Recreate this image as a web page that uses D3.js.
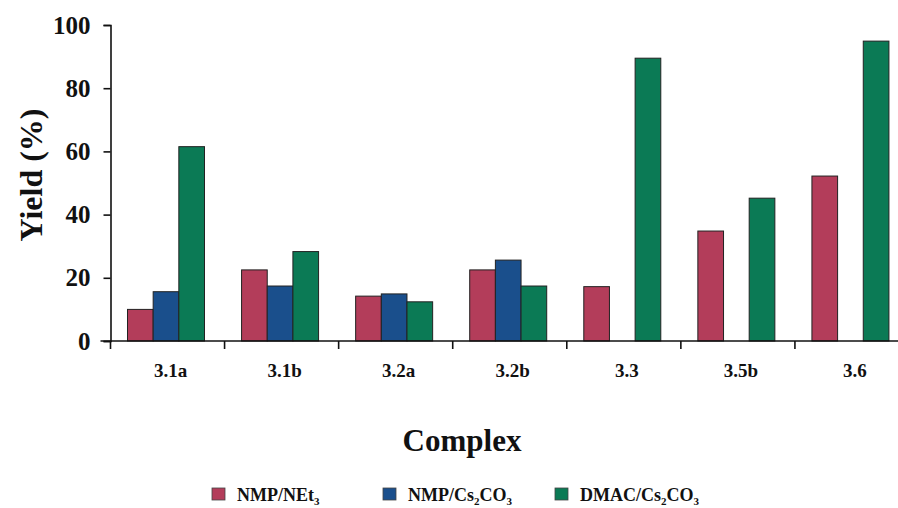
<!DOCTYPE html>
<html>
<head>
<meta charset="utf-8">
<script src="https://cdn.jsdelivr.net/npm/d3@7"></script>
<style>
  body { margin: 0; background: #fff; }
  svg { display: block; font-family: "Liberation Serif", "Times New Roman", serif; font-weight: bold; }
</style>
</head>
<body>
<svg id="chart" width="898" height="508"></svg>
<script>
// Yield (%) for each complex under three reaction conditions
const complexes = ["3.1a", "3.1b", "3.2a", "3.2b", "3.3", "3.5b", "3.6"];
const nmpNEt3   = [10, 22.5, 14.2, 22.5, 17.2, 34.8, 52.2];
const nmpCs2CO3 = [15.6, 17.4, 14.9, 25.6, null, null, null];
const dmacCs2CO3 = [61.5, 28.3, 12.4, 17.4, 89.5, 45.2, 94.9];
const yTicks = [0, 20, 40, 60, 80, 100];

const seriesNames = ["NMP/NEt3", "NMP/Cs2CO3", "DMAC/Cs2CO3"];
const seriesColors = ["#b33d5a", "#1a4f8c", "#0b7a55"];
const seriesValues = [nmpNEt3, nmpCs2CO3, dmacCs2CO3];

const svg = d3.select("#chart");
const x0 = 110.5, x1 = 909, yTop = 25, yBase = 341;

const x = d3.scaleBand().domain(complexes).range([x0, x1]).paddingInner(0).paddingOuter(0);
const xs = d3.scaleBand().domain(seriesNames).range([17, 17 + 77]);
const y = d3.scaleLinear().domain([0, 100]).range([yBase, yTop]);

// bars
seriesValues.forEach((vals, si) => {
  svg.append("g")
    .selectAll("rect")
    .data(complexes.map((c, i) => ({ c, v: vals[i] })).filter(d => d.v != null))
    .join("rect")
    .attr("x", d => x(d.c) + xs(seriesNames[si]))
    .attr("y", d => y(d.v))
    .attr("width", xs.bandwidth())
    .attr("height", d => y(0) - y(d.v))
    .attr("fill", seriesColors[si])
    .attr("stroke", "#222")
    .attr("stroke-width", 1);
});

// y axis
const yAxis = svg.append("g")
  .attr("transform", `translate(${x0},0)`)
  .call(d3.axisLeft(y).tickValues(yTicks).tickSize(7).tickPadding(13).tickFormat(d3.format("d")));
yAxis.select(".domain").attr("stroke", "#111").attr("stroke-width", 1.6);
yAxis.selectAll(".tick line").attr("stroke", "#111").attr("stroke-width", 1.6);
yAxis.selectAll(".tick text")
  .attr("font-family", "Liberation Serif, serif")
  .attr("font-weight", "bold")
  .attr("font-size", 25)
  .attr("fill", "#111");

// x axis with ticks at category boundaries
const xAxisG = svg.append("g").attr("transform", `translate(0,${yBase})`);
xAxisG.append("line")
  .attr("x1", x0 - 10).attr("x2", 898)
  .attr("stroke", "#111").attr("stroke-width", 1.6);
xAxisG.selectAll("line.tk")
  .data(complexes)
  .join("line")
  .attr("class", "tk")
  .attr("x1", d => x(d)).attr("x2", d => x(d))
  .attr("y1", 0).attr("y2", 8)
  .attr("stroke", "#111").attr("stroke-width", 1.6);
xAxisG.selectAll("text")
  .data(complexes)
  .join("text")
  .attr("x", d => x(d) + x.bandwidth() / 2 + 3)
  .attr("y", 36)
  .attr("text-anchor", "middle")
  .attr("font-size", 19)
  .attr("fill", "#111")
  .text(d => d);

// axis titles
svg.append("text")
  .attr("transform", "translate(42,175) rotate(-90)")
  .attr("text-anchor", "middle")
  .attr("font-size", 32)
  .attr("fill", "#111")
  .text("Yield (%)");

svg.append("text")
  .attr("x", 462).attr("y", 451)
  .attr("text-anchor", "middle")
  .attr("font-size", 31)
  .attr("fill", "#111")
  .text("Complex");

// legend: swatch plus label with subscripted digits
const legendItems = [
  { color: seriesColors[0], parts: [["NMP/NEt", false], ["3", true]], x: 212 },
  { color: seriesColors[1], parts: [["NMP/Cs", false], ["2", true], ["CO", false], ["3", true]], x: 383 },
  { color: seriesColors[2], parts: [["DMAC/Cs", false], ["2", true], ["CO", false], ["3", true]], x: 555 }
];
const leg = svg.append("g");
legendItems.forEach(it => {
  leg.append("rect")
    .attr("x", it.x).attr("y", 488)
    .attr("width", 13).attr("height", 12)
    .attr("fill", it.color)
    .attr("stroke", "#444").attr("stroke-width", 0.8);
  const t = leg.append("text")
    .attr("x", it.x + 25).attr("y", 501)
    .attr("font-size", 18)
    .attr("fill", "#111");
  let shifted = false;
  it.parts.forEach(([s, sub]) => {
    let dy = 0;
    if (sub && !shifted) { dy = 4; shifted = true; }
    else if (!sub && shifted) { dy = -4; shifted = false; }
    t.append("tspan")
      .attr("font-size", sub ? 11 : 18)
      .attr("dy", dy)
      .text(s);
  });
});
</script>
</body>
</html>
